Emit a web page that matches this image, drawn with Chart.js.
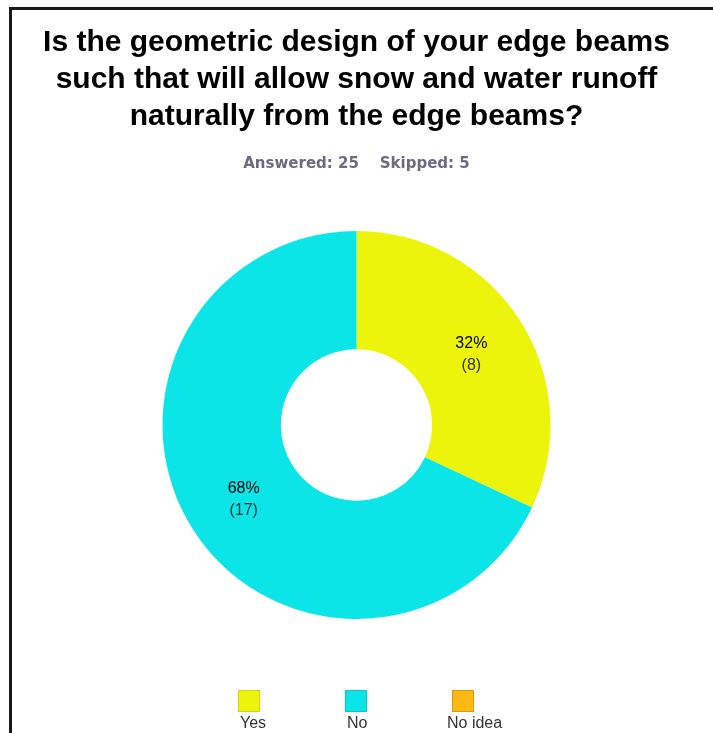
<!DOCTYPE html>
<html>
<head>
<meta charset="utf-8">
<script src="https://cdn.jsdelivr.net/npm/chart.js@4.4.1/dist/chart.umd.min.js"></script>
<style>
  html, body { margin: 0; padding: 0; background: #fff; }
  #wrap { position: relative; width: 713px; height: 733px; overflow: hidden; }
  #frame { position: absolute; left: 9px; top: 7px; width: 720px; height: 740px;
           border-left: 3px solid #1a1a1a; border-top: 3px solid #1a1a1a; box-sizing: border-box; }
  canvas { position: absolute; left: 0; top: 0; }
</style>
</head>
<body>
<div id="wrap">
  <div id="frame"></div>
  <canvas id="chart" width="713" height="733"></canvas>
</div>
<script>
// Survey question and response counts
const titleLines = [
  'Is the geometric design of your edge beams',
  'such that will allow snow and water runoff',
  'naturally from the edge beams?'
];
const answered = 25;
const skipped = 5;
const categories = ['Yes', 'No', 'No idea'];
const counts = [8, 17, 0];
const colors = ['#ecf40b', '#0be5e8', '#fcb913'];
const borderColors = ['#cfd600', '#00c8cc', '#e09a00'];

const total = counts.reduce((a, b) => a + b, 0);
const SANS = '"Liberation Sans", Arial, sans-serif';

// Percentage and count written inside each ring segment
const sliceLabels = {
  id: 'sliceLabels',
  afterDatasetsDraw(chart) {
    const ctx = chart.ctx;
    const meta = chart.getDatasetMeta(0);
    meta.data.forEach((arc, i) => {
      const v = chart.data.datasets[0].data[i];
      if (!v) return;
      const p = arc.getCenterPoint();
      const pct = Math.round(v / total * 100) + '%';
      ctx.save();
      ctx.textAlign = 'center';
      ctx.textBaseline = 'middle';
      ctx.fillStyle = '#000';
      ctx.font = '16px ' + SANS;
      ctx.fillText(pct, p.x + 1, p.y - 9);
      ctx.fillStyle = '#333';
      ctx.font = '16px ' + SANS;
      ctx.fillText('(' + v + ')', p.x + 1, p.y + 13);
      ctx.restore();
    });
  }
};

// Legend with colour squares above their names
const squareLegend = {
  id: 'squareLegend',
  afterDraw(chart) {
    const ctx = chart.ctx;
    const ds = chart.data.datasets[0];
    const startX = 238, step = 107, top = 690, size = 22;
    chart.data.labels.forEach((name, i) => {
      const x = startX + i * step;
      ctx.save();
      ctx.fillStyle = ds.backgroundColor[i];
      ctx.fillRect(x, top, size, size);
      ctx.strokeStyle = borderColors[i];
      ctx.lineWidth = 1;
      ctx.strokeRect(x + 0.5, top + 0.5, size - 1, size - 1);
      ctx.fillStyle = '#333';
      ctx.font = '16px ' + SANS;
      ctx.textAlign = 'left';
      ctx.textBaseline = 'middle';
      ctx.fillText(name, x + (i === 2 ? -5 : 2), 724);
      ctx.restore();
    });
  }
};

new Chart(document.getElementById('chart'), {
  type: 'doughnut',
  data: {
    labels: categories,
    datasets: [{
      data: counts,
      backgroundColor: colors,
      borderWidth: 0,
      hoverOffset: 0,
      offset: 0
    }]
  },
  options: {
    responsive: false,
    animation: false,
    cutout: '39%',
    layout: { padding: { left: 0, right: 0, top: 0, bottom: 114 } },
    plugins: {
      legend: { display: false },
      tooltip: { enabled: false },
      title: {
        display: true,
        text: titleLines,
        color: '#000',
        font: { family: SANS, size: 30, weight: 'bold', lineHeight: 1.233 },
        padding: { top: 24, bottom: 0 }
      },
      subtitle: {
        display: true,
        text: 'Answered: ' + answered + '    Skipped: ' + skipped,
        color: '#6d6a80',
        font: { family: '"DejaVu Sans", Verdana, sans-serif', size: 15, weight: 'bold', lineHeight: 1.2 },
        padding: { top: 20, bottom: 58 }
      }
    }
  },
  plugins: [sliceLabels, squareLegend]
});
</script>
</body>
</html>
